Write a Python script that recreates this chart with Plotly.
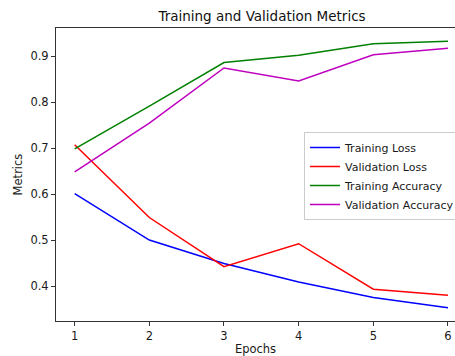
import plotly.graph_objects as go

epochs = [1, 2, 3, 4, 5, 6]
training_loss = [0.601, 0.500, 0.449, 0.409, 0.375, 0.353]
validation_loss = [0.707, 0.549, 0.442, 0.492, 0.393, 0.380]
training_accuracy = [0.698, 0.791, 0.886, 0.902, 0.927, 0.932]
validation_accuracy = [0.648, 0.754, 0.874, 0.846, 0.903, 0.917]
x_ticks = [1, 2, 3, 4, 5, 6]
y_ticks = [0.4, 0.5, 0.6, 0.7, 0.8, 0.9]

series = [
    ("Training Loss", training_loss, "#0000ff"),
    ("Validation Loss", validation_loss, "#ff0000"),
    ("Training Accuracy", training_accuracy, "#008000"),
    ("Validation Accuracy", validation_accuracy, "#bf00bf"),
]

fig = go.Figure()
for name, vals, color in series:
    fig.add_trace(go.Scatter(x=epochs, y=vals, mode="lines", name=name,
                             line=dict(color=color, width=1.5)))

font = "DejaVu Sans, sans-serif"
fig.update_layout(
    width=455, height=356,
    margin=dict(l=56, r=0, t=28, b=35, autoexpand=False),
    paper_bgcolor="white", plot_bgcolor="white",
    font=dict(family=font, size=11.5, color="#1a1a1a"),
    title=dict(text="Training and Validation Metrics", x=262/455, xanchor="center",
               xref="container", y=1 - 16/356, yanchor="middle", yref="container",
               font=dict(size=13.5, color="#111111")),
    showlegend=True,
    legend=dict(x=(304-56)/399, xanchor="left", y=(321-132)/293, yanchor="top",
                bgcolor="rgba(255,255,255,0.8)", bordercolor="#cccccc", borderwidth=1,
                font=dict(size=11), tracegroupgap=0, itemwidth=30),
    xaxis=dict(range=[0.75, 6.094], tickvals=x_ticks, ticks="outside", ticklen=4,
               tickcolor="#333", showgrid=False, zeroline=False, showline=True,
               linecolor="#333", linewidth=1, mirror=True,
               title=dict(text="Epochs", standoff=3, font=dict(size=11.5))),
    yaxis=dict(range=[0.324, 0.961], tickvals=y_ticks, tickformat=".1f", ticks="outside",
               ticklen=4, tickcolor="#333", showgrid=False, zeroline=False, showline=True,
               linecolor="#333", linewidth=1,
               title=dict(text="Metrics", standoff=5, font=dict(size=11.5))),
)

fig.write_html("out.html")
